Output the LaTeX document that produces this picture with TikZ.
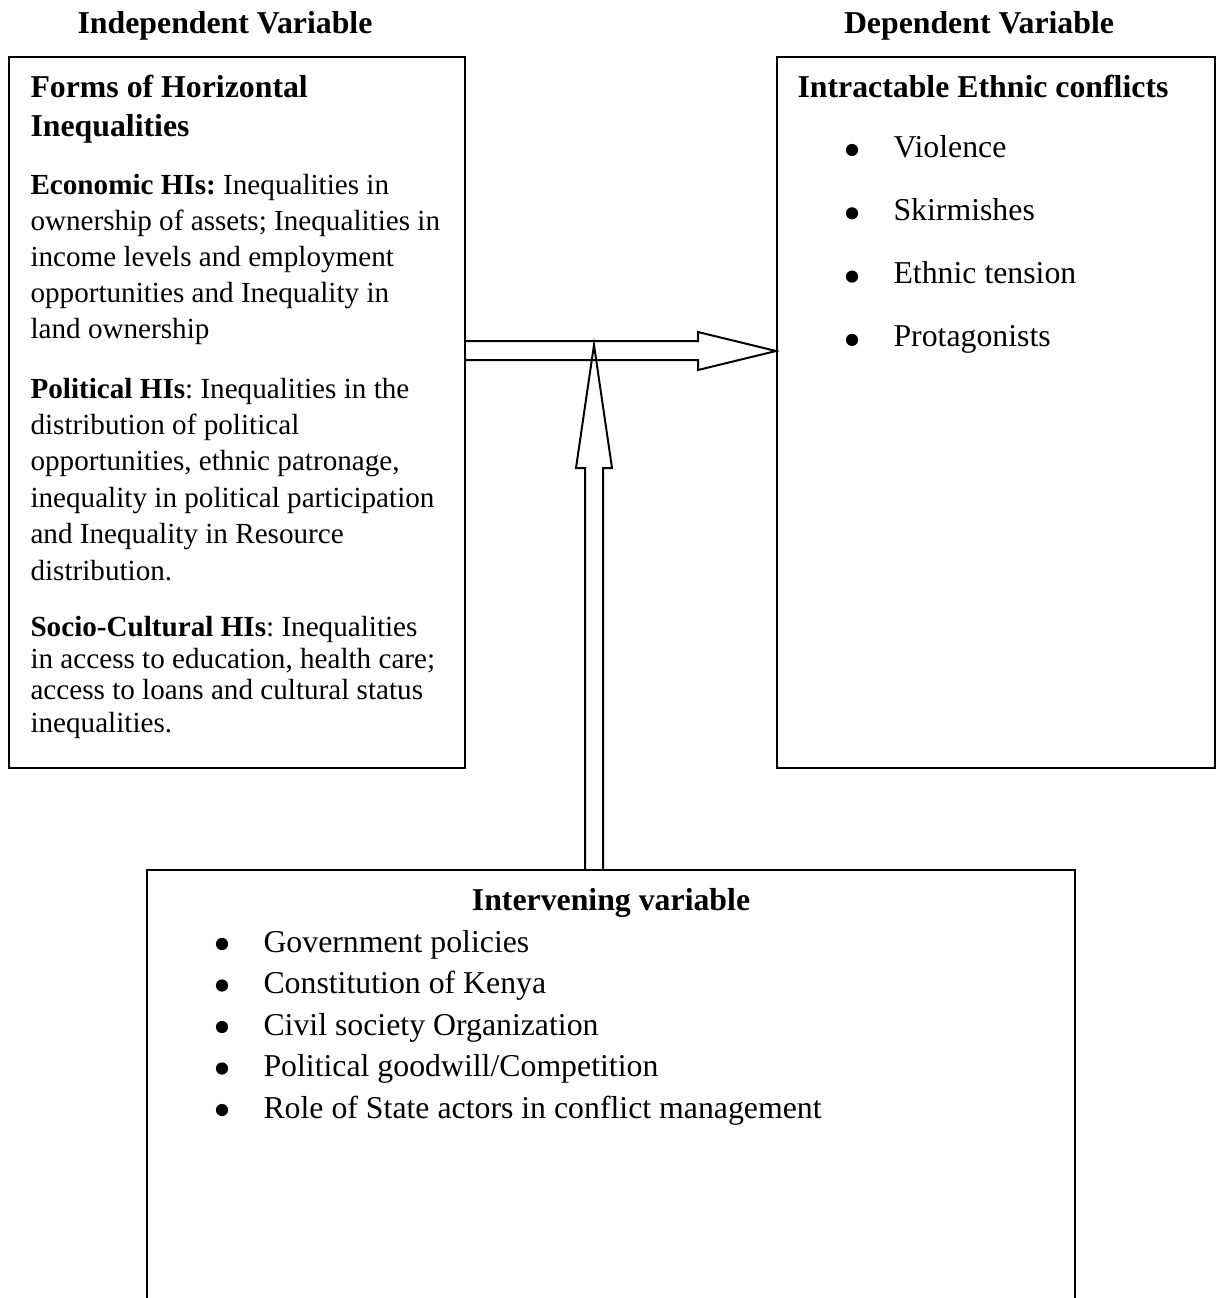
\documentclass[tikz,border=0pt]{standalone}
\usepackage{fontspec}
\setmainfont{Liberation Serif}
\frenchspacing
\usepackage{tikz}
\usetikzlibrary{fit}
\tikzset{
box/.style={draw,line width=0.75pt,inner sep=0pt},
head/.style={anchor=base,inner sep=0pt,font=\fontsize{12}{13.6}\selectfont\bfseries},
bul/.style={circle,fill,inner sep=0pt,minimum size=4.6pt},
itm/.style={anchor=base west,inner sep=0pt,font=\fontsize{12}{13.6}\selectfont},
sml/.style={anchor=base west,inner sep=0pt,font=\fontsize{11}{13}\selectfont},
blk/.style={line width=0.75pt,line join=miter}
}
\begin{document}
\begin{tikzpicture}[x=0.3774pt,y=-0.3774pt]
\clip (0,0) rectangle (1216,1298);
\node[head] (indT) at (225,33) {Independent Variable};
\node[head] (depT) at (979,33) {Dependent Variable};
\node[box,fit={(9,57) (465,768)}] (ind) {};
\node[box,fit={(777,57) (1215,768)}] (dep) {};
\node[box,fit={(147,870) (1075,1330)}] (int) {};
\node[itm,font=\fontsize{12}{13.6}\selectfont\bfseries] (indH1) at (30,97) {Forms of Horizontal};
\node[itm,font=\fontsize{12}{13.6}\selectfont\bfseries] (indH2) at (30,136) {Inequalities};
\foreach \yy/\txt [count=\i] in {194/{\textbf{Economic HIs:} Inequalities in},230/{ownership of assets; Inequalities in},
266/{income levels and employment},302/{opportunities and Inequality in},338/{land ownership},
398/{\textbf{Political HIs}: Inequalities in the},434/{distribution of political},
470/{opportunities, ethnic patronage,},507/{inequality in political participation},
543/{and Inequality in Resource},580/{distribution.},
636/{\textbf{Socio-Cultural HIs}: Inequalities},668/{in access to education, health care;},
699/{access to loans and cultural status},732/{inequalities.}}
\node[sml] (ln\i) at (30,\yy) {\txt};
\node[itm,font=\fontsize{12}{13.6}\selectfont\bfseries] (depH) at (797,97) {Intractable Ethnic conflicts};
\foreach \lbl [count=\i] in {Violence,Skirmishes,Ethnic tension,Protagonists}{
\node[bul] (db\i) at (852,{150+63.3*(\i-1)}) {};
\node[itm] (dt\i) at (893,{157+63.3*(\i-1)}) {\lbl};
}
\node[head] (intH) at (611,910) {Intervening variable};
\foreach \lbl [count=\i] in {Government policies,Constitution of Kenya,Civil society Organization,Political goodwill/Competition,Role of State actors in conflict management}{
\node[bul] (ib\i) at (222,{944+41.5*(\i-1)}) {};
\node[itm] (it\i) at (263,{952+41.5*(\i-1)}) {\lbl};
}
\draw[blk] (ind.east |- 0,341) -- (698,341) -- (698,332) -- (dep.west |- 0,351) -- (698,370) -- (698,360) -- (ind.east |- 0,360);
\draw[blk] (int.north -| 585,0) -- (585,468) -- (576,468) -- (594,345) -- (612,468) -- (603,468) -- (int.north -| 603,0);
\end{tikzpicture}
\end{document}
